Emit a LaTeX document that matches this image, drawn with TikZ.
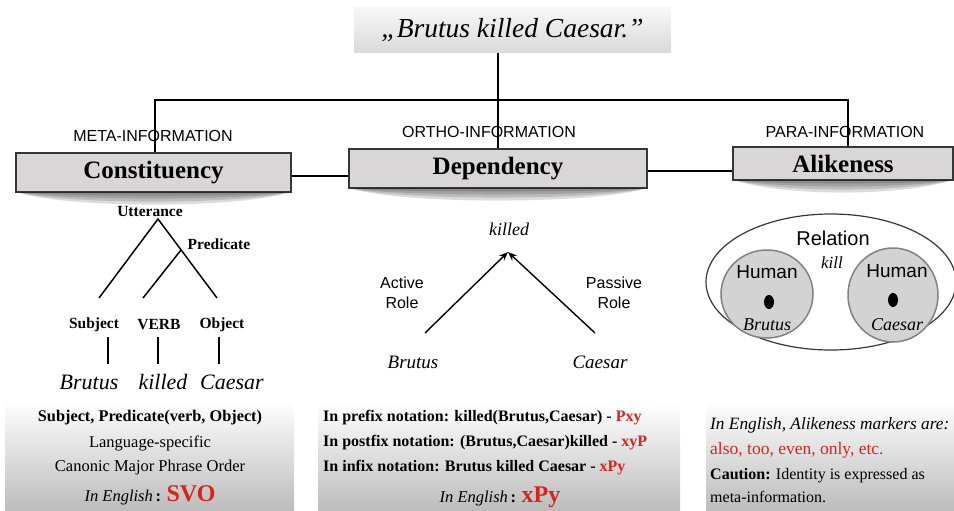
\documentclass[tikz,border=0pt]{standalone}
\usepackage{fontspec}
\setmainfont{Liberation Serif}
\setsansfont{Liberation Sans}
\usetikzlibrary{arrows.meta,shapes.geometric}

\definecolor{boxgray}{RGB}{216,214,214}
\definecolor{edgegray}{RGB}{55,55,55}
\definecolor{markred}{RGB}{212,38,32}
\definecolor{circgray}{RGB}{211,211,211}
\definecolor{circedge}{RGB}{130,130,130}

\newcommand\fsz[1]{\fontsize{#1}{#1}\selectfont}

% soft shadow lens under a header box
\newcommand\castshadow[1]{%
  \foreach \d in {4,8,12,16}{%
    \fill[black,opacity=0.14] ([xshift=3pt]#1.south west)
      .. controls +(50,\d) and +(-50,\d) .. ([xshift=-3pt]#1.south east) -- cycle;}}

\tikzset{
  headbox/.style={draw=edgegray, line width=1.1pt, fill=boxgray, inner sep=0pt,
                  font=\fsz{25}\bfseries},
  titlebox/.style={top color=gray!6, bottom color=gray!30, inner sep=0pt,
                   font=\fsz{27.5}\itshape},
  infolabel/.style={font=\sffamily\fsz{16}, inner sep=0pt},
  notebox/.style={top color=white, bottom color={rgb,255:red,188;green,188;blue,188},
                  inner sep=0pt},
  link/.style={line width=1.4pt},
  branch/.style={line width=1.5pt},
  catlabel/.style={font=\bfseries\fsz{15.5}, inner sep=0pt},
  word/.style={font=\itshape\fsz{22}, inner sep=0pt},
  roleword/.style={font=\itshape\fsz{19}, inner sep=0pt},
  rolelabel/.style={font=\sffamily\fsz{16}, align=center, inner sep=0pt},
  role/.style={line width=1.4pt, -{Stealth[length=9pt,width=7pt]}},
  noteline/.style={font=\fsz{16.5}, inner sep=0pt},
  notelineL/.style={font=\fsz{16.5}, inner sep=0pt, anchor=west},
  entity/.style={draw=circedge, line width=1.5pt, fill=circgray},
  dot/.style={fill=black},
}

\begin{document}
\begin{tikzpicture}[x=1pt,y=-1pt]
\useasboundingbox (0,0) rectangle (954,511);

% ---- sentence on top ----
\node[titlebox, minimum width=317pt, minimum height=45pt] (title) at (512.5,30.5)
  {„Brutus killed Caesar.”};

% ---- three kinds of information ----
\node[headbox, minimum width=275pt, minimum height=39pt] (cons) at (153.5,172.5) {Constituency};
\node[headbox, minimum width=298pt, minimum height=39pt] (dep)  at (498,168.5) {Dependency};
\node[headbox, minimum width=220pt, minimum height=33pt] (alike) at (843,163.5) {Alikeness};
\castshadow{cons}
\castshadow{dep}
\castshadow{alike}

\coordinate (barL) at (155,100);
\coordinate (barM) at (498,100);
\coordinate (barR) at (848,100);
\draw[link] (title.south -| barM) -- (barM);
\draw[link] (barL |- cons.north) -- (barL) -- (barR) -- (barR |- alike.north);
\draw[link] (barM) -- (barM |- dep.north);
\draw[link] (cons.east) ++(0,3.5) coordinate (c1) -- (c1 -| dep.west);
\draw[link] (dep.east) ++(0,2.5) coordinate (c2) -- (c2 -| alike.west);

\node[infolabel] (meta)  at (153,136) {META-INFORMATION};
\node[infolabel] (ortho) at (489,132) {ORTHO-INFORMATION};
\node[infolabel] (para)  at (845,132) {PARA-INFORMATION};

% ---- constituency tree ----
\node[catlabel] (utt) at (150,211) {Utterance};
\node[catlabel] (pred) at (219,244) {Predicate};
\coordinate (apex) at (158,219);
\coordinate (fork) at (181,250);
\coordinate (endS) at (99,298);
\coordinate (endV) at (143,298);
\coordinate (endO) at (217,298);
\draw[branch] (endS) -- (apex) -- (endO);
\draw[branch] (fork) -- (endV);

\node[catlabel] (subj) at (94,325) {Subject};
\node[catlabel] (verb) at (159,325) {VERB};
\node[catlabel] (obj)  at (222,325) {Object};
\node[word] (wB) at (89,382) {Brutus};
\node[word] (wK) at (163,382) {killed};
\node[word] (wC) at (232,382) {Caesar};
\coordinate (s1) at (108,337); \coordinate (s2) at (108,364);
\coordinate (v1) at (158,337); \coordinate (v2) at (158,364);
\coordinate (o1) at (219,337); \coordinate (o2) at (219,364);
\draw[branch] (s1) -- (s2);
\draw[branch] (v1) -- (v2);
\draw[branch] (o1) -- (o2);

% ---- dependency ----
\node[font=\itshape\fsz{18}, inner sep=0pt] (head) at (509,229) {killed};
\coordinate (tip) at (508,252);
\coordinate (fromB) at (425,333);
\coordinate (fromC) at (595,333);
\draw[role] (fromB) -- (tip);
\draw[role] (fromC) -- (tip);
\node[rolelabel] (active)  at (402,293) {Active\\[4pt]Role};
\node[rolelabel] (passive) at (614,293) {Passive\\[4pt]Role};
\node[roleword] (dB) at (413,362) {Brutus};
\node[roleword] (dC) at (600,362) {Caesar};

% ---- alikeness ----
\draw[draw=edgegray, line width=1.2pt, fill=white] (831,282) ellipse [x radius=125, y radius=68];
\node[entity, ellipse, minimum width=92pt, minimum height=88pt, inner sep=0pt] (humA) at (767,294) {};
\node[entity, ellipse, minimum width=90pt, minimum height=94pt, inner sep=0pt] (humB) at (893,295) {};
\node[font=\sffamily\fsz{20}, inner sep=0pt] (rel) at (833,238) {Relation};
\node[font=\itshape\fsz{17}, inner sep=0pt] (kill) at (832,263) {kill};
\node[font=\sffamily\fsz{19}, inner sep=0pt] (hA) at (767,272) {Human};
\node[font=\sffamily\fsz{19}, inner sep=0pt] (hB) at (897,271) {Human};
\fill[dot] (769,302) ellipse [x radius=5, y radius=7];
\fill[dot] (893,300) ellipse [x radius=5, y radius=7];
\node[font=\itshape\fsz{18}, inner sep=0pt] (aB) at (767,325) {Brutus};
\node[font=\itshape\fsz{18}, inner sep=0pt] (aC) at (897,325) {Caesar};

% ---- notes ----
\node[notebox, minimum width=289pt, minimum height=111pt] (noteL) at (149.5,455.5) {};
\node[notebox, minimum width=362pt, minimum height=108pt] (noteM) at (499,457) {};
\node[notebox, minimum width=248pt, minimum height=111pt] (noteR) at (830,455.5) {};

\node[noteline, font=\bfseries\fsz{16.3}] (nL1) at (150,418) {Subject, Predicate(verb, Object)};
\node[noteline] (nL2) at (150,443) {Language-specific};
\node[noteline] (nL3) at (150,468) {Canonic Major Phrase Order};
\node[noteline] (nL4) at (150,495) {\textit{In English}\,\textbf{:} \textcolor{markred}{\bfseries\fsz{24}SVO}};

\node[notelineL, font=\bfseries\fsz{16}] (nM1) at (323,418) {In prefix notation: killed(Brutus,Caesar) - \textcolor{markred}{Pxy}};
\node[notelineL, font=\bfseries\fsz{16}] (nM2) at (323,443) {In postfix notation: (Brutus,Caesar)killed - \textcolor{markred}{xyP}};
\node[notelineL, font=\bfseries\fsz{16}] (nM3) at (323,468) {In infix notation: Brutus killed Caesar - \textcolor{markred}{xPy}};
\node[noteline] (nM4) at (500,497) {\textit{In English}\,\textbf{:} \textcolor{markred}{\bfseries\fsz{24}xPy}};

\node[notelineL, font=\itshape\fsz{17.3}] (nR1) at (710,425) {In English, Alikeness markers are:};
\node[notelineL, font=\fsz{17.5}, text=markred] (nR2) at (710,450) {also, too, even, only, etc.};
\node[notelineL, font=\fsz{16}] (nR3) at (710,476) {\textbf{Caution:} Identity is expressed as};
\node[notelineL, font=\fsz{16}] (nR4) at (710,497) {meta-information.};
\end{tikzpicture}
\end{document}
